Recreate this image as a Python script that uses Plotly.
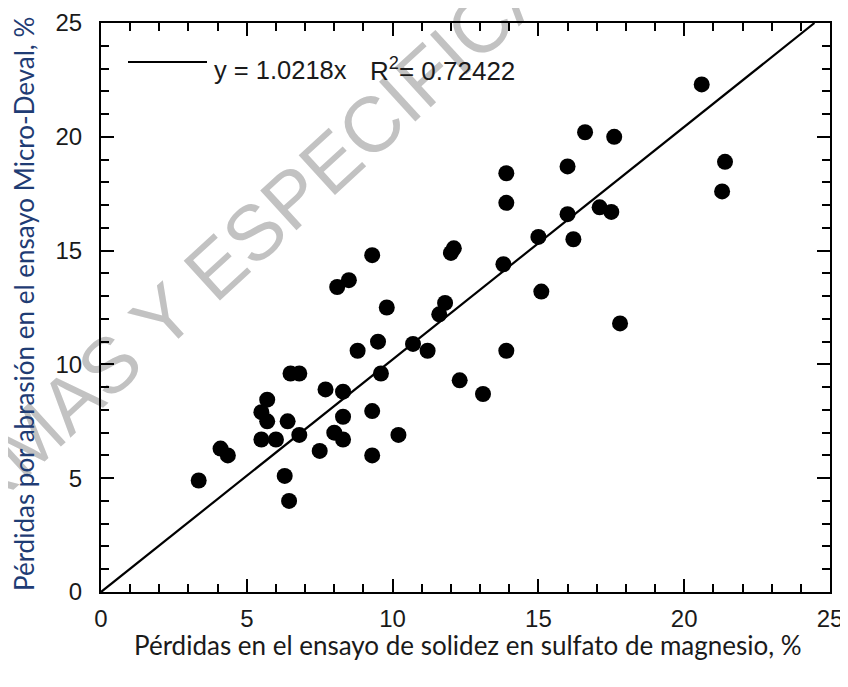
import plotly.graph_objects as go

# Data
sulfato_mg = [20.6, 16.6, 17.6, 21.4, 21.3, 13.9, 16.0, 13.9, 16.0, 17.1,
              17.5, 15.0, 16.2, 12.1, 12.0, 9.3, 13.8, 8.5, 8.1, 15.1,
              9.8, 11.8, 11.6, 17.8, 9.5, 8.8, 10.7, 11.2, 13.9, 9.6,
              6.5, 6.8, 12.3, 13.1, 7.7, 8.3, 5.7, 5.5, 5.7, 6.4,
              8.3, 9.3, 5.5, 6.0, 6.8, 8.0, 8.3, 10.2, 7.5, 4.1,
              4.35, 9.3, 6.3, 6.45, 3.35]
micro_deval = [22.3, 20.2, 20.0, 18.9, 17.6, 18.4, 18.7, 17.1, 16.6, 16.9,
               16.7, 15.6, 15.5, 15.1, 14.9, 14.8, 14.4, 13.7, 13.4, 13.2,
               12.5, 12.7, 12.2, 11.8, 11.0, 10.6, 10.9, 10.6, 10.6, 9.6,
               9.6, 9.6, 9.3, 8.7, 8.9, 8.8, 8.45, 7.9, 7.5, 7.5,
               7.7, 7.95, 6.7, 6.7, 6.9, 7.0, 6.7, 6.9, 6.2, 6.3,
               6.0, 6.0, 5.1, 4.0, 4.9]
slope = 1.0218
r2 = 0.72422
axis_range = [0, 25]
tick_vals = [0, 5, 10, 15, 20, 25]

x_fit = [0, axis_range[1] / slope]
y_fit = [slope * v for v in x_fit]

fig = go.Figure()
fig.add_trace(go.Scatter(x=x_fit, y=y_fit, mode="lines",
                         line=dict(color="black", width=2.2),
                         hoverinfo="skip", showlegend=False))
fig.add_trace(go.Scatter(x=sulfato_mg, y=micro_deval, mode="markers",
                         marker=dict(color="black", size=16, line=dict(width=0)),
                         showlegend=False))

# page body adds an 8px offset; work in screen pixels and compensate
OFF = 8
W, H = 840, 679
PL, PR, PT, PB = 101, 830, 23, 592          # plot frame in screen pixels
L, T = PL - OFF, PT - OFF
R, B = W - (PR - OFF), H - (PB - OFF)
pw, ph = PR - PL, PB - PT

def px_x(p):
    return (p - PL) / pw

def px_y(p):
    return (PB - p) / ph

axis_common = dict(range=axis_range, tickvals=tick_vals, ticks="inside",
                   ticklen=13, tickwidth=2, tickcolor="black",
                   showline=True, linecolor="black", linewidth=2,
                   mirror="ticks", showgrid=False, zeroline=False, automargin=False,
                   tickfont=dict(family="Liberation Sans, Arial", size=24, color="#1a1a1a"),
                   minor=dict(dtick=1, ticks="inside", ticklen=8, tickwidth=1.5,
                              tickcolor="black", showgrid=False))

fig.update_xaxes(**axis_common, ticklabelstandoff=4)
fig.update_yaxes(**axis_common, ticklabelstandoff=12)

# Watermark (behind data)
cx, cy = 313, 169
dx, dy = 0.737, -0.676
ext = 320
fig.add_shape(type="line", xref="paper", yref="paper", layer="below",
              x0=px_x(cx - dx * ext), y0=px_y(cy - dy * ext),
              x1=px_x(cx + dx * ext), y1=px_y(cy + dy * ext),
              line=dict(color="rgba(0,0,0,0)", width=0),
              label=dict(text="NORMAS Y ESPECIFICACIONES", textposition="middle",
                         yanchor="middle",
                         font=dict(family="Liberation Sans, Arial", size=78, color="#c2c2c2")))

# Legend-like fit label
fig.add_shape(type="line", xref="paper", yref="paper",
              x0=px_x(128), x1=px_x(207), y0=px_y(62), y1=px_y(62),
              line=dict(color="black", width=2))
fig.add_annotation(xref="paper", yref="paper", x=px_x(212), y=px_y(70),
                   xanchor="left", yanchor="middle", showarrow=False,
                   text="y = " + str(slope) + "x",
                   font=dict(family="Liberation Sans, Arial", size=25.5, color="#1a1a1a"))
fig.add_annotation(xref="paper", yref="paper", x=px_x(368), y=px_y(70),
                   xanchor="left", yanchor="middle", showarrow=False,
                   text="R<sup>2</sup>= " + str(r2),
                   font=dict(family="Liberation Sans, Arial", size=26, color="#1a1a1a"))

# Axis titles
fig.add_annotation(xref="paper", yref="paper", x=px_x(468), y=px_y(645),
                   xanchor="center", yanchor="middle", showarrow=False,
                   text="Pérdidas en el ensayo de solidez en sulfato de magnesio, %",
                   font=dict(family="Lato, Carlito, Calibri", size=26, color="#1a1a1a"))
fig.add_annotation(xref="paper", yref="paper", x=px_x(24), y=px_y(304),
                   xanchor="center", yanchor="middle", showarrow=False, textangle=-90,
                   text="Pérdidas por abrasión en el ensayo Micro-Deval, %",
                   font=dict(family="Lato, Carlito, Calibri", size=26, color="#1F3C74"))

fig.update_layout(width=W, height=H, margin=dict(l=L, r=R, t=T, b=B, pad=0, autoexpand=False),
                  paper_bgcolor="white", plot_bgcolor="rgba(0,0,0,0)",
                  showlegend=False)

fig.write_html("out.html")
